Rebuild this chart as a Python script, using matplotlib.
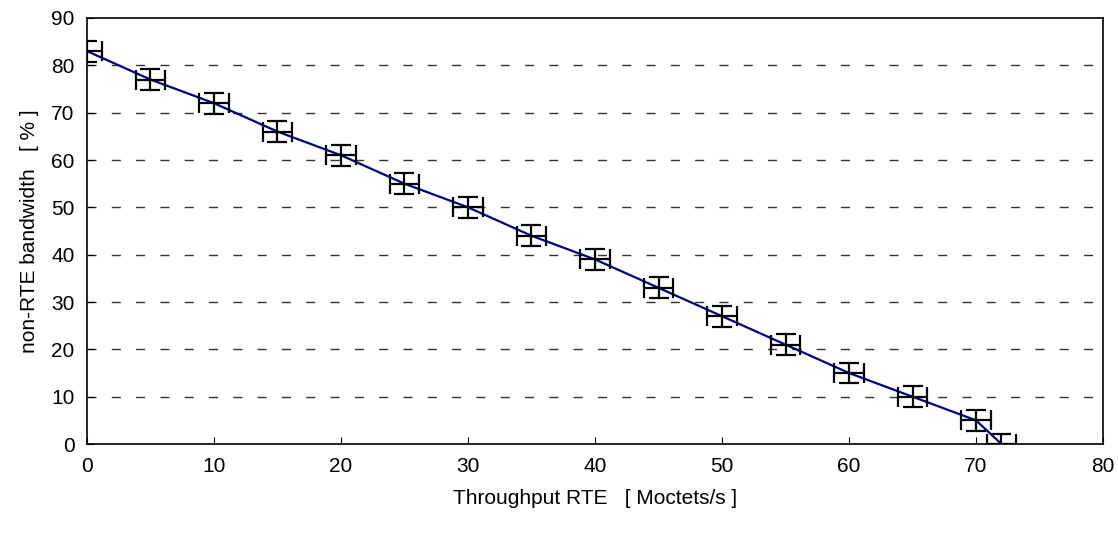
import numpy as np
import matplotlib.pyplot as plt

plt.rcParams['font.family'] = ['Liberation Sans', 'DejaVu Sans']

# throughput RTE (Moctets/s) and non-RTE bandwidth (%)
throughput = [0, 5, 10, 15, 20, 25, 30, 35, 40, 45, 50, 55, 60, 65, 70, 72]
bandwidth = [83, 77, 72, 66, 61, 55, 50, 44, 39, 33, 27, 21, 15, 10, 5, 0]
x_err = 1.15
y_err = 2.2

fig = plt.figure(figsize=(11.18, 5.34), dpi=100)
ax = fig.add_axes([0.0778, 0.1685, 0.9088, 0.7978])

for y in range(10, 90, 10):
    ax.axhline(y, color='#333333', lw=1.0, ls=(0, (6.5, 11)), zorder=1)

ax.plot(throughput, bandwidth, color='#000080', lw=1.6, zorder=3)
ax.errorbar(throughput, bandwidth, xerr=x_err, yerr=y_err, fmt='none',
            ecolor='black', elinewidth=1.6, capsize=7, capthick=1.6, zorder=4)

ax.set_xlim(0, 80)
ax.set_ylim(0, 90)
ax.set_xticks(range(0, 81, 10))
ax.set_yticks(range(0, 91, 10))
ax.tick_params(direction='in', length=5, labelsize=15, pad=9)
for s in ax.spines.values():
    s.set_linewidth(1.2)

ax.set_xlabel('Throughput RTE   [ Moctets/s ]', fontsize=15, labelpad=10)
ax.set_ylabel('non-RTE bandwidth   [ % ]', fontsize=15, labelpad=9)

fig.savefig('out.png', dpi=100)
